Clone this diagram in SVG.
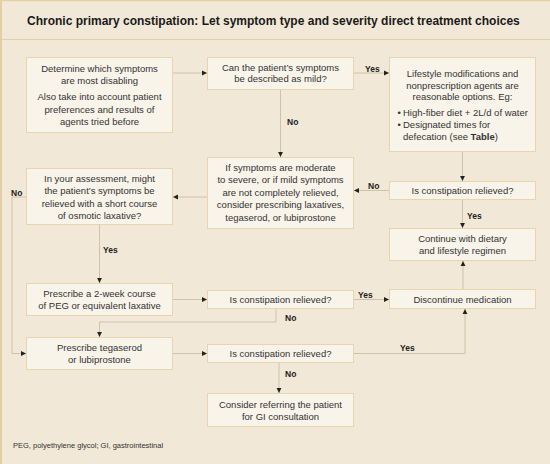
<svg xmlns="http://www.w3.org/2000/svg" width="550" height="464" viewBox="0 0 550 464">
<style>
.bg{fill:#f2e8d7}
.bd{fill:none;stroke:#e3cfa4}
.box{fill:#f9f4ea;stroke:#e8d5ac;stroke-width:1}
.t{font-family:"Liberation Sans",Arial,sans-serif;font-size:9.5px;fill:#333;text-anchor:middle}
.tl{text-anchor:start}
.lbl{font-family:"Liberation Sans",Arial,sans-serif;font-size:8.5px;font-weight:bold;fill:#222}
.title{font-family:"Liberation Sans",Arial,sans-serif;font-size:12px;font-weight:bold;fill:#1a1a1a}
.foot{font-family:"Liberation Sans",Arial,sans-serif;font-size:7.5px;fill:#333}
.c{fill:none;stroke:#cfc2a8;stroke-width:1;marker-end:url(#ah)}
</style>
<defs>
<marker id="ah" markerUnits="userSpaceOnUse" markerWidth="6" markerHeight="6" refX="5" refY="3" orient="auto">
<path d="M0,0.6 L5,3 L0,5.4 Z" fill="#222"/>
</marker>
</defs>
<rect class="bg" x="0" y="0" width="550" height="464"/>
<line class="bd" x1="0" y1="0.5" x2="550" y2="0.5" stroke-width="1.5"/>
<line class="bd" x1="1" y1="0" x2="1" y2="464" stroke-width="2"/>
<line class="bd" x1="0" y1="39.5" x2="550" y2="39.5" stroke-width="1.2"/>
<text class="title" x="27" y="24.5">Chronic primary constipation: Let symptom type and severity direct treatment choices</text>

<g id="connectors">
<path class="c" d="M173,73 H207"/>
<path class="c" d="M354,73 H389"/>
<path class="c" d="M280.5,90 V157"/>
<path class="c" d="M462.5,152 V181"/>
<path class="c" d="M389,190.5 H354"/>
<path class="c" d="M462.5,200 V228"/>
<path class="c" d="M207,197 H173"/>
<path class="c" d="M99.5,225 V283"/>
<path class="c" d="M26,197 H12 V353.5 H26"/>
<path class="c" d="M173,299.5 H207"/>
<path class="c" d="M354,299.5 H389"/>
<path class="c" d="M276,309 V322 H99.5 V337"/>
<path class="c" d="M173,353.5 H207"/>
<path class="c" d="M354,353.5 H465 V309"/>
<path class="c" d="M279,363 V393"/>
<path class="c" d="M463,289 V261"/>
<text class="lbl" x="365" y="72">Yes</text>
<text class="lbl" x="287" y="125">No</text>
<text class="lbl" x="368" y="189">No</text>
<text class="lbl" x="467" y="219">Yes</text>
<text class="lbl" x="103" y="253">Yes</text>
<text class="lbl" x="11" y="195.5">No</text>
<text class="lbl" x="358" y="298">Yes</text>
<text class="lbl" x="285" y="321">No</text>
<text class="lbl" x="400" y="351">Yes</text>
<text class="lbl" x="285" y="377">No</text>
</g>

<g id="n-determine">
<rect class="box" x="26.5" y="57.5" width="146" height="75"/>
<text class="t" x="99.5" y="71.5">Determine which symptoms</text>
<text class="t" x="99.5" y="84">are most disabling</text>
<text class="t" x="99.5" y="100">Also take into account patient</text>
<text class="t" x="99.5" y="112.5">preferences and results of</text>
<text class="t" x="99.5" y="124.5">agents tried before</text>
</g>
<g id="n-mild">
<rect class="box" x="207.5" y="57.5" width="146" height="32"/>
<text class="t" x="280.5" y="70.5">Can the patient’s symptoms</text>
<text class="t" x="280.5" y="82">be described as mild?</text>
</g>
<g id="n-lifestyle">
<rect class="box" x="389.5" y="57.5" width="146" height="94"/>
<text class="t" x="462.5" y="76.5">Lifestyle modifications and</text>
<text class="t" x="462.5" y="88.5">nonprescription agents are</text>
<text class="t" x="462.5" y="100">reasonable options. Eg:</text>
<text class="t tl" x="397.5" y="116">•</text>
<text class="t tl" x="403" y="116">High-fiber diet + 2L/d of water</text>
<text class="t tl" x="397.5" y="127.5">•</text>
<text class="t tl" x="403" y="127.5">Designated times for</text>
<text class="t tl" x="403" y="139.5">defecation (see <tspan font-weight="bold">Table</tspan>)</text>
</g>
<g id="n-moderate">
<rect class="box" x="207.5" y="157.5" width="146" height="71"/>
<text class="t" x="280.5" y="170.5">If symptoms are moderate</text>
<text class="t" x="280.5" y="183">to severe, or if mild symptoms</text>
<text class="t" x="280.5" y="195.5">are not completely relieved,</text>
<text class="t" x="280.5" y="208">consider prescribing laxatives,</text>
<text class="t" x="280.5" y="220.5">tegaserod, or lubiprostone</text>
</g>
<g id="n-assess">
<rect class="box" x="26.5" y="168.5" width="146" height="56"/>
<text class="t" x="99.5" y="181.5">In your assessment, might</text>
<text class="t" x="99.5" y="194">the patient’s symptoms be</text>
<text class="t" x="99.5" y="206.5">relieved with a short course</text>
<text class="t" x="99.5" y="218.5">of osmotic laxative?</text>
</g>
<g id="n-relieved1">
<rect class="box" x="389.5" y="181.5" width="146" height="18"/>
<text class="t" x="462.5" y="193.5">Is constipation relieved?</text>
</g>
<g id="n-continue">
<rect class="box" x="389.5" y="228.5" width="146" height="32"/>
<text class="t" x="462.5" y="241.5">Continue with dietary</text>
<text class="t" x="462.5" y="253.5">and lifestyle regimen</text>
</g>
<g id="n-discontinue">
<rect class="box" x="389.5" y="289.5" width="146" height="19"/>
<text class="t" x="462.5" y="302.5">Discontinue medication</text>
</g>
<g id="n-peg">
<rect class="box" x="26.5" y="283.5" width="146" height="32"/>
<text class="t" x="99.5" y="296.5">Prescribe a 2-week course</text>
<text class="t" x="99.5" y="308.5">of PEG or equivalent laxative</text>
</g>
<g id="n-relieved2">
<rect class="box" x="207.5" y="290.5" width="146" height="18"/>
<text class="t" x="280.5" y="302.5">Is constipation relieved?</text>
</g>
<g id="n-tegaserod">
<rect class="box" x="26.5" y="337.5" width="146" height="32"/>
<text class="t" x="99.5" y="350.5">Prescribe tegaserod</text>
<text class="t" x="99.5" y="362.5">or lubiprostone</text>
</g>
<g id="n-relieved3">
<rect class="box" x="207.5" y="344.5" width="146" height="18"/>
<text class="t" x="280.5" y="356.5">Is constipation relieved?</text>
</g>
<g id="n-refer">
<rect class="box" x="207.5" y="393.5" width="146" height="33"/>
<text class="t" x="280.5" y="407.5">Consider referring the patient</text>
<text class="t" x="280.5" y="419.5">for GI consultation</text>
</g>
<text class="foot" x="13" y="448">PEG, polyethylene glycol; GI, gastrointestinal</text>
</svg>
